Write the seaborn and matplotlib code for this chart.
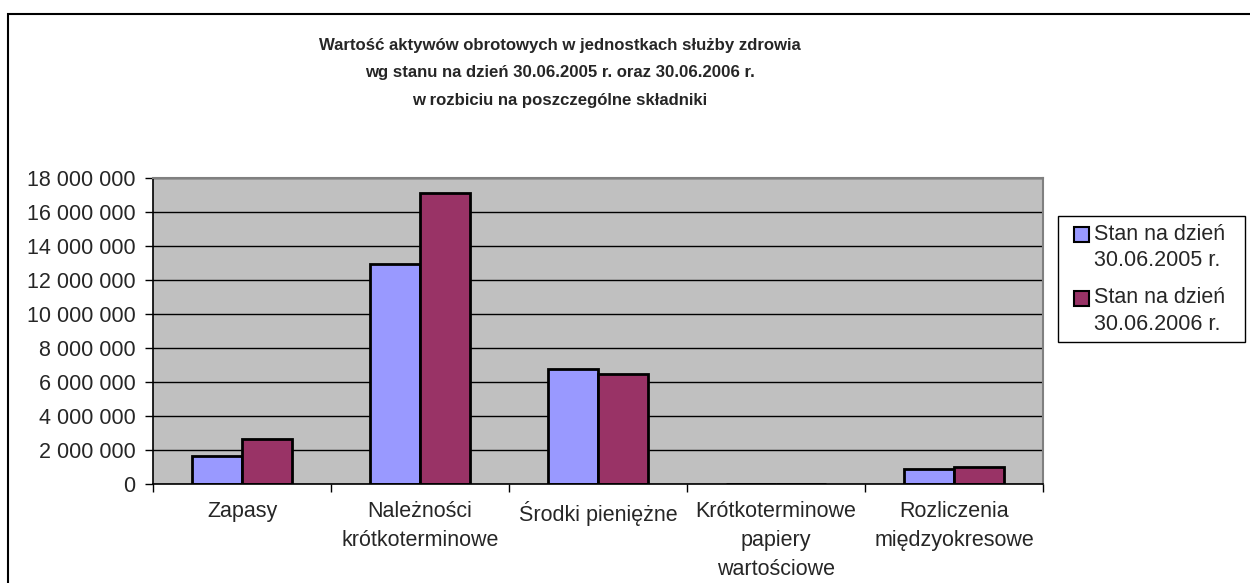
import pandas as pd
import numpy as np
import matplotlib.pyplot as plt
import matplotlib.patches as mpatches
from matplotlib.legend_handler import HandlerPatch
from matplotlib.ticker import FuncFormatter, FixedLocator
import seaborn as sns

# Dane
kategorie = ['Zapasy', 'Należności\nkrótkoterminowe', 'Środki pieniężne',
             'Krótkoterminowe\npapiery\nwartościowe', 'Rozliczenia\nmiędzyokresowe']
stan_2005 = [1650000, 12950000, 6770000, 0, 880000]
stan_2006 = [2650000, 17100000, 6450000, 0, 1020000]
serie = ['Stan na dzień\n30.06.2005 r.', 'Stan na dzień\n30.06.2006 r.']
kolory = ['#9999FF', '#993366']
tytul = ('Wartość aktywów obrotowych w jednostkach służby zdrowia\n'
         'wg stanu na dzień 30.06.2005 r. oraz 30.06.2006 r.\n'
         'w rozbiciu na poszczególne składniki')

sns.set_style("white")
plt.rcParams['font.family'] = ['Liberation Sans', 'DejaVu Sans']

FS = 15.5

df = pd.DataFrame({
    'kategoria': kategorie * 2,
    'wartosc': stan_2005 + stan_2006,
    'seria': [serie[0]] * len(kategorie) + [serie[1]] * len(kategorie),
})

fig = plt.figure(figsize=(12.5, 5.83), dpi=100)
ax = fig.add_axes([153 / 1250, 99 / 583, 890 / 1250, 306 / 583])
ax.set_facecolor('#C0C0C0')

sns.barplot(data=df, x='kategoria', y='wartosc', hue='seria', palette=kolory,
            saturation=1, width=0.56, edgecolor='black', linewidth=2.0, ax=ax)

ax.set_ylim(0, 18000000)
ax.set_xlim(-0.5, len(kategorie) - 0.5)
ax.set_axisbelow(True)
ax.yaxis.set_major_locator(FixedLocator(np.arange(0, 18000001, 2000000)))
ax.yaxis.grid(True, color='black', linewidth=1.0)
ax.xaxis.grid(False)
ax.yaxis.set_major_formatter(FuncFormatter(lambda v, p: f'{int(v):,}'.replace(',', ' ')))

# ticks between categories, labels in the middle
ax.set_xticks(range(len(kategorie)))
ax.set_xticklabels(kategorie, fontsize=FS, linespacing=1.5)
ax.xaxis.set_minor_locator(FixedLocator(np.arange(-0.5, len(kategorie), 1)))
ax.tick_params(axis='x', which='major', bottom=True, length=0, pad=12)
ax.tick_params(axis='x', which='minor', bottom=True, length=6, width=1,
               color='black', direction='out')
ax.tick_params(axis='y', left=True, length=6, width=1, color='black',
               direction='out', pad=6.5, labelsize=FS)
ax.set_xlabel('')
ax.set_ylabel('')

for side in ['top', 'right']:
    ax.spines[side].set_color('#808080')
    ax.spines[side].set_linewidth(1.5)
for side in ['left', 'bottom']:
    ax.spines[side].set_color('black')
    ax.spines[side].set_linewidth(1.2)


# legend marker: square at the right of the handle box, level with the first line
def marker_up(legend, orig_handle, xdescent, ydescent, width, height, fontsize):
    return mpatches.Rectangle((-xdescent + width - height, -ydescent + 9.5), height, height)


handles, labels = ax.get_legend_handles_labels()
top = 1 - 216 / 583
leg = ax.legend(handles, labels, loc='upper left', mode='expand',
                bbox_to_anchor=(1058 / 1250, top - 0.3, (1245 - 1058) / 1250, 0.3),
                bbox_transform=fig.transFigure, fontsize=FS, frameon=True,
                fancybox=False, edgecolor='black', framealpha=1,
                handlelength=1.1, handleheight=0.72, handletextpad=0.2,
                borderpad=0.35, labelspacing=0.75, borderaxespad=0,
                handler_map={mpatches.Rectangle: HandlerPatch(patch_func=marker_up)})
leg.get_frame().set_linewidth(1.0)
for t in leg.get_texts():
    t.set_linespacing(1.35)
for h in leg.legend_handles:
    h.set_linewidth(1.5)

fig.text(560 / 1250, 1 - 73 / 583, tytul, ha='center', va='center', fontsize=12.1,
         fontweight='bold', linespacing=2.05)

# ramka obszaru wykresu
fig.patches.append(mpatches.Rectangle((8 / 1250, -0.1), 1.1, 1 - 14 / 583 + 0.1,
                                      transform=fig.transFigure, fill=False,
                                      edgecolor='black', linewidth=1.5))

plt.savefig('out.png', dpi=100)
plt.close()
